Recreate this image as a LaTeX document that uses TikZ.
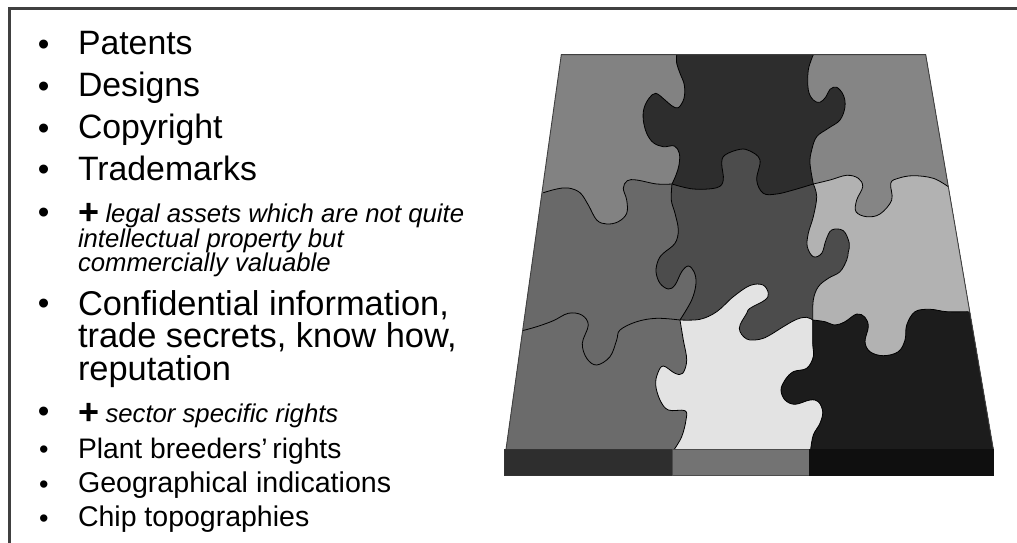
\documentclass[tikz,border=0pt]{standalone}
\usepackage{fontspec}
\setmainfont{Liberation Sans}
\definecolor{gTL}{gray}{0.51}
\definecolor{gTM}{gray}{0.176}
\definecolor{gTR}{gray}{0.522}
\definecolor{gML}{gray}{0.41}
\definecolor{gMM}{gray}{0.30}
\definecolor{gMR}{gray}{0.70}
\definecolor{gBL}{gray}{0.42}
\definecolor{gBM}{gray}{0.89}
\definecolor{gBR}{gray}{0.11}
\definecolor{gBaseL}{gray}{0.18}
\definecolor{gBaseM}{gray}{0.45}
\definecolor{gBaseR}{gray}{0.06}
\definecolor{frameC}{gray}{0.25}
\tikzset{
  every plot/.style={smooth,tension=0.6},
  seam/.style={draw=black,line width=0.8pt,line join=round},
  rim/.style={draw=black!75,line width=0.9pt},
  txt/.style={anchor=base west,inner sep=0pt,outer sep=0pt,align=left},
}
% seams: vertical 1
\def\VAa{(676.7,54.7)(676.7,63.3)(680,73.3)(684.3,85)(684,98.3)(678.3,107.7)(671.7,105.7)(665,100)(655.7,93.3)(649,98.3)(644,108.3)(643.3,120)(646.7,133.3)(653.3,142.7)(663.3,146.7)(674.3,146)(679.3,153.3)(679,165)(676,175)(672,184)}
\def\VAb{(672,184)(671.3,200)(675,213.3)(678.3,230)(675,243.3)(663.3,253.3)(658.3,260)(656,271.7)(660,283.3)(668.3,289)(675,285)(681.7,271.7)(688.3,266)(694,271.7)(696,283.3)(691.7,300)(680,320)}
\def\VAc{(680,320)(683.3,340)(686.7,360)(682.7,373.3)(675,373.3)(663.3,366)(657.7,373.3)(655.7,385)(660,400)(668.3,410)(685,410.7)(686,420)(681.7,436.7)(674.3,449.3)}
% vertical 2
\def\VBa{(813.3,54.7)(808.3,70)(808.3,90)(813.3,100)(820,102.3)(826,96.7)(830,89.3)(836.7,87.3)(843.3,95)(845,106.7)(840,120)(828.3,128.3)(816.7,136.7)(811.7,150)(810,163.3)(813.3,184)}
\def\VBb{(813.3,184)(816.7,196.7)(813.3,216.7)(808.3,233.3)(807.3,246.7)(813.3,256.7)(821.7,253.3)(826,240)(831.7,230)(843.3,230.7)(849.3,243.3)(848.3,252)(846.7,260)(840,271.7)(828.3,278.3)(818.3,286.7)(813.3,300)(812.7,320)}
\def\VBc{(812.7,320)(812.7,343.3)(813.3,356.7)(806.7,368.3)(793.3,371.7)(785,380)(781,390)(785,400)(795,404.3)(810,400)(818.3,401.7)(822.7,411.7)(820,423.3)(813.3,435)(810.7,449.3)}
% horizontal 1
\def\HAa{(543.3,192.7)(556.7,189)(568.3,188)(580,192.7)(588.3,205)(596.7,220)(606.7,224)(618.3,221.7)(626.7,213.3)(626.7,200)(623.3,188.3)(627.3,180.7)(636.7,180)(656.7,184)(672,184)}
\def\HAb{(672,184)(693.3,189)(716.7,187.7)(723.3,180)(721.7,163.3)(725,155)(740,149.3)(750,151)(760,160)(756.7,180)(763.3,193.3)(776.7,194)(793.3,190)(813.3,184)}
\def\HAc{(813.3,184)(830,180)(846.7,175.3)(858.3,178.3)(862.7,186.7)(856.7,200)(856,211.7)(866.7,216.7)(880,214)(891.7,200)(890.7,183.3)(898.3,178.3)(913.3,175.7)(933.3,178.3)(948.3,186.7)}
% horizontal 2
\def\HBa{(522.3,330.7)(536.7,326.7)(553.3,320.7)(568.3,313.3)(581.7,315)(588.3,325)(582.3,343.3)(586.7,358.3)(596.7,365)(610,356.7)(616.7,340)(620,330)(636.7,321.7)(656.7,318.3)(680,320)}
\def\HBb{(680,320)(700,319.3)(716.7,311.7)(733.3,296.7)(750,285.5)(763,285)(768.3,293.3)(765,300)(750,308.3)(746.7,313.3)(739.3,328.3)(746.7,339)(760,339.3)(770,335)(783.3,326.7)(796.7,319.3)(806.7,317.3)(812.7,320)}
\def\HBc{(812.7,320)(825,321.7)(835,325)(845,321.7)(856.7,314)(865,317.3)(868.3,326.7)(865,341.7)(870,351.7)(883.3,355.7)(898.3,351.7)(905,340)(906.7,325)(915,311.7)(930,309.3)(946.7,311.7)(968.3,311.7)}
\edef\VA{plot coordinates {\VAa} -- plot coordinates {\VAb} -- plot coordinates {\VAc}}
\edef\VB{plot coordinates {\VBa} -- plot coordinates {\VBb} -- plot coordinates {\VBc}}
\edef\HA{plot coordinates {\HAa} -- plot coordinates {\HAb} -- plot coordinates {\HAc}}
\edef\HB{plot coordinates {\HBa} -- plot coordinates {\HBb} -- plot coordinates {\HBc}}
\newcommand\rows[3]{%
  \fill[#1] (400,40) rectangle (1100,480);
  \fill[#2] \HA -- (1100,186.7) -- (1100,480) -- (400,480) -- (400,192.7) -- cycle;
  \fill[#3] \HB -- (1100,311.7) -- (1100,480) -- (400,480) -- (400,330.7) -- cycle;
}
\newcommand\bul[4]{\node[txt,font=\fontsize{#3}{#3}\selectfont] (#1) at (#4,#2) {•};}
\newcommand\lin[4]{\node[txt,font=\fontsize{#3}{#3}\selectfont] (#1) at (78,#2) {#4};}
\newcommand\plusmark{\raisebox{-1.3pt}{\fontsize{36}{36}\selectfont\bfseries +}\hspace{6.5pt}}
\begin{document}
\begin{tikzpicture}[x=1pt,y=-1pt]
\useasboundingbox (0,0) rectangle (1017,543);
\fill[white] (0,0) rectangle (1017,543);
% frame
\coordinate (fa) at (9,543);
\coordinate (fb) at (9,9);
\coordinate (fc) at (1017,9);
\draw[frameC,line width=3pt] (fa) -- (fb) -- (fc);
% puzzle
\coordinate (tl) at (561.3,54.7);
\coordinate (tr) at (925.7,54.7);
\coordinate (br) at (993.3,449.3);
\coordinate (bl) at (506,449.3);
\begin{scope}
  \clip (tl) -- (tr) -- (br) -- (bl) -- cycle;
  \rows{gTL}{gML}{gBL}
  \begin{scope}
    \clip \VA -- (1100,449.3) -- (1100,54.7) -- cycle;
    \rows{gTM}{gMM}{gBM}
    \begin{scope}
      \clip \VB -- (1100,449.3) -- (1100,54.7) -- cycle;
      \rows{gTR}{gMR}{gBR}
    \end{scope}
  \end{scope}
\end{scope}
\draw[seam] \VA;
\draw[seam] \VB;
\draw[seam] \HA;
\draw[seam] \HB;
\draw[rim] (bl) -- (tl) -- (tr) -- (br);
% base
\coordinate (b1) at (504.5,449.3);
\coordinate (b2) at (672.7,449.3);
\coordinate (b3) at (809,449.3);
\coordinate (b4) at (993.7,449.3);
\coordinate (c1) at (504.5,475.7);
\coordinate (c2) at (672.7,475.7);
\coordinate (c3) at (809,475.7);
\coordinate (c4) at (993.7,475.7);
\filldraw[fill=gBaseL,draw=black!80,line width=0.7pt] (b1) rectangle (c2);
\filldraw[fill=gBaseM,draw=black!70,line width=0.7pt] (b2) rectangle (c3);
\filldraw[fill=gBaseR,draw=gBaseR,line width=0.7pt] (b3) rectangle (c4);
% text
\bul{b01}{55.8}{33}{37.9}
\bul{b02}{97.2}{33}{37.9}
\bul{b03}{139.2}{33}{37.9}
\bul{b04}{180.8}{33}{37.9}
\bul{b05}{223.2}{33}{37.9}
\bul{b06}{314.2}{33}{37.9}
\bul{b07}{422.2}{33}{37.9}
\bul{b08}{458.1}{27}{39}
\bul{b09}{493.1}{27}{39}
\bul{b10}{527.7}{27}{39}
\lin{t1}{55}{33.8}{Patents}
\lin{t2}{96.7}{33.8}{Designs}
\lin{t3}{138.3}{33.8}{Copyright}
\lin{t4}{180}{33.8}{Trademarks}
\lin{t5}{222.7}{33.8}{\plusmark{\fontsize{25.7}{25.7}\selectfont\itshape legal assets which are not quite}}
\lin{t6}{247}{25.7}{\itshape intellectual property but}
\lin{t7}{271}{25.7}{\itshape commercially valuable}
\lin{t8}{315}{34.4}{Confidential information,}
\lin{t9}{347.5}{34.4}{trade secrets, know how,}
\lin{t10}{380.7}{34.4}{reputation}
\lin{t11}{422.7}{33.8}{\plusmark{\fontsize{25.7}{25.7}\selectfont\itshape sector specific rights}}
\lin{t12}{458.3}{28.2}{Plant breeders’\hspace{-3pt} rights}
\lin{t13}{492.7}{28.6}{Geographical indications}
\lin{t14}{526.7}{28.5}{Chip topographies}
\end{tikzpicture}
\end{document}
